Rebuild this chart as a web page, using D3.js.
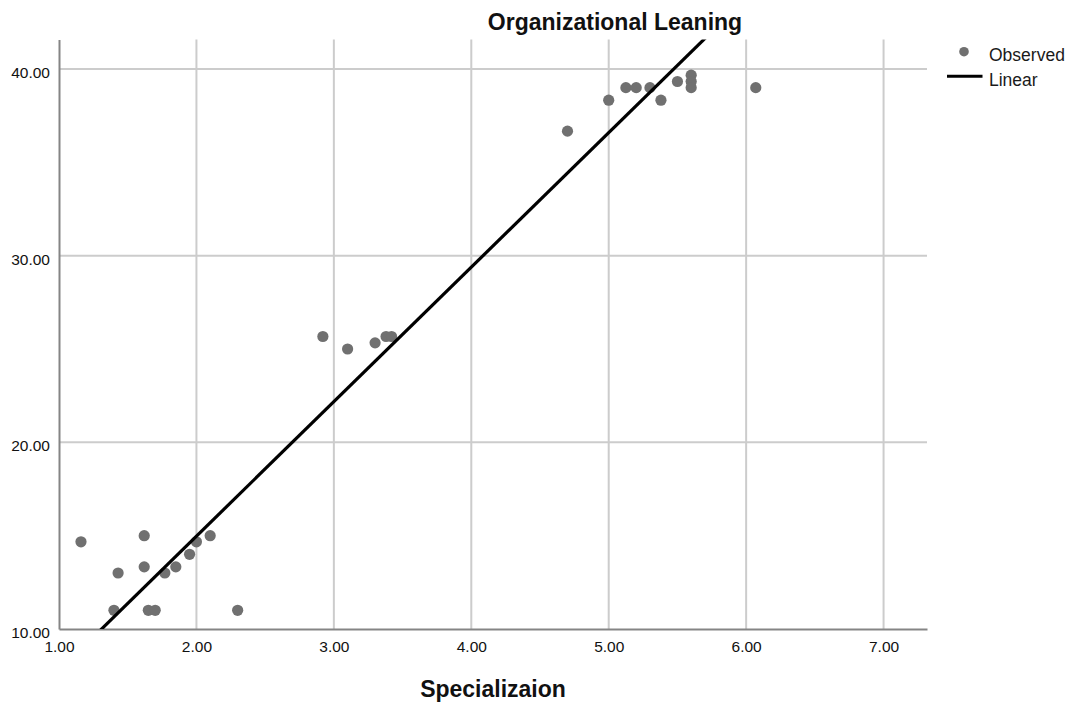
<!DOCTYPE html>
<html>
<head>
<meta charset="utf-8">
<script src="https://cdn.jsdelivr.net/npm/d3@7"></script>
<style>
  html, body { margin: 0; padding: 0; background: #ffffff; }
  svg { display: block; font-family: "Liberation Sans", Arial, sans-serif; }
</style>
</head>
<body>
<svg id="chart" width="1075" height="708"></svg>
<script>
// Observed cases: Specialization score (x) vs Organizational Learning score (y)
const specialization = [
  1.16, 1.62, 1.43, 1.62, 1.40, 1.65, 1.70, 2.30, 1.77, 1.85, 1.95, 2.00, 2.10,
  2.92, 3.10, 3.30, 3.38, 3.42,
  4.70, 5.00, 5.125, 5.20, 5.30, 5.38, 5.50, 5.60, 5.60, 5.60, 6.07
];
const learning = [
  14.67, 15.00, 13.00, 13.33, 11.00, 11.00, 11.00, 11.00, 13.00, 13.33, 14.00, 14.67, 15.00,
  25.67, 25.00, 25.33, 25.67, 25.67,
  36.67, 38.33, 39.00, 39.00, 39.00, 38.33, 39.33, 39.67, 39.33, 39.00, 39.00
];
// Linear model: [intercept, slope]
const linearFit = [0.56, 7.206];

const xTicks = [1, 2, 3, 4, 5, 6, 7];
const yTicks = [10, 20, 30, 40];
const legendItems = ["Observed", "Linear"];

const svg = d3.select("#chart");

const x = d3.scaleLinear().domain([1, 7.316]).range([59, 927]);
const y = d3.scaleLinear().domain([10, 41.58]).range([629, 39.5]);

const fmt = d3.format(".2f");

// Gridlines
const grid = svg.append("g");
grid.selectAll("line.vg").data(xTicks.slice(1)).join("line")
  .attr("x1", d => x(d)).attr("x2", d => x(d))
  .attr("y1", y.range()[1]).attr("y2", y.range()[0])
  .attr("stroke", "#cccccc").attr("stroke-width", 2);
grid.selectAll("line.hg").data(yTicks.slice(1)).join("line")
  .attr("x1", x.range()[0]).attr("x2", x.range()[1])
  .attr("y1", d => y(d)).attr("y2", d => y(d))
  .attr("stroke", "#cccccc").attr("stroke-width", 2);

// Axes
const xAxis = svg.append("g").attr("transform", `translate(0,${y.range()[0]})`)
  .call(d3.axisBottom(x).tickValues(xTicks).tickFormat(fmt).tickSize(0).tickPadding(12));
const yAxis = svg.append("g").attr("transform", `translate(${x.range()[0]},0)`)
  .call(d3.axisLeft(y).tickValues(yTicks).tickFormat(fmt).tickSize(0).tickPadding(9));

[xAxis, yAxis].forEach(g => {
  g.select(".domain").attr("stroke", "#858585").attr("stroke-width", 2);
  g.selectAll("text")
    .attr("font-family", "'Liberation Sans', Arial, sans-serif")
    .attr("font-size", 15.5).attr("fill", "#111111");
});
xAxis.selectAll("text").attr("dy", "0.71em").attr("y", 12);
yAxis.selectAll("text").attr("dy", "0.55em");

// Clip region for the fit line
svg.append("clipPath").attr("id", "plotClip")
  .append("rect")
  .attr("x", x.range()[0]).attr("y", y.range()[1])
  .attr("width", x.range()[1] - x.range()[0])
  .attr("height", y.range()[0] - y.range()[1]);

// Observed points
const pts = specialization.map((v, i) => ({ x: v, y: learning[i] }));
svg.append("g").selectAll("circle").data(pts).join("circle")
  .attr("cx", d => x(d.x)).attr("cy", d => y(d.y))
  .attr("r", 5.6).attr("fill", "#707070");

// Linear fit line
const fitX = x.domain();
const fitLine = d3.line().x(d => x(d)).y(d => y(linearFit[0] + linearFit[1] * d));
svg.append("path").datum(fitX)
  .attr("clip-path", "url(#plotClip)")
  .attr("d", fitLine)
  .attr("fill", "none").attr("stroke", "#000000").attr("stroke-width", 3.2);

// Title and axis label
svg.append("text").attr("x", 615).attr("y", 30).attr("text-anchor", "middle")
  .attr("font-size", 23).attr("font-weight", "bold").attr("fill", "#111")
  .text("Organizational Leaning");
svg.append("text").attr("x", (x.range()[0] + x.range()[1]) / 2).attr("y", 697)
  .attr("text-anchor", "middle")
  .attr("font-size", 23).attr("font-weight", "bold").attr("fill", "#111")
  .text("Specializaion");

// Legend
const legend = svg.append("g");
legend.append("circle").attr("cx", 964).attr("cy", 51.7).attr("r", 4.8).attr("fill", "#707070");
legend.append("line").attr("x1", 947).attr("x2", 982.5).attr("y1", 76.3).attr("y2", 76.3)
  .attr("stroke", "#000").attr("stroke-width", 3);
legend.selectAll("text").data(legendItems).join("text")
  .attr("x", 989).attr("y", (d, i) => 61 + i * 24.5)
  .attr("font-size", 17.5).attr("fill", "#1a1a1a")
  .text(d => d);
</script>
</body>
</html>
